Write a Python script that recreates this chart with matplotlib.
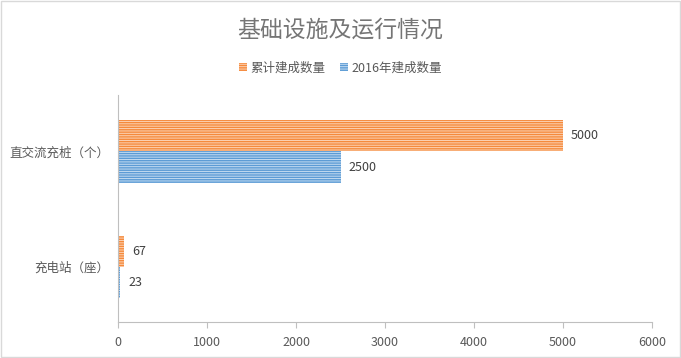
import matplotlib
matplotlib.use("Agg")
import matplotlib.pyplot as plt
from matplotlib.patches import Rectangle

plt.rcParams['font.family'] = ['Noto Sans CJK SC', 'DejaVu Sans']
plt.rcParams['hatch.linewidth'] = 1.0

# data
categories = ['充电站（座）', '直交流充桩（个）']
total_built = [67, 5000]
built_2016 = [23, 2500]
series_names = ['累计建成数量', '2016年建成数量']
xticks = [0, 1000, 2000, 3000, 4000, 5000, 6000]

orange = '#F58A3C'
blue = '#5B9BD5'
text_col = '#595959'

fig = plt.figure(figsize=(6.81, 3.58), dpi=100)
ax = fig.add_axes([118 / 681, (358 - 322) / 358, (652 - 118) / 681, (322 - 95) / 358])

h = 0.27
ypos = list(range(len(categories)))
b1 = ax.barh([y + h / 2 for y in ypos], total_built, height=h, facecolor='#FCD3B5',
             edgecolor=orange, hatch='-------', linewidth=0)
b2 = ax.barh([y - h / 2 for y in ypos], built_2016, height=h, facecolor='#C5DCF1',
             edgecolor=blue, hatch='-------', linewidth=0)

for bars, vals in ((b1, total_built), (b2, built_2016)):
    for bar, v in zip(bars, vals):
        ax.text(v + 90, bar.get_y() + bar.get_height() / 2, str(v), va='center',
                ha='left', fontsize=9, color='#404040')

ax.set_xlim(0, 6000)
ax.set_ylim(-0.48, 1.49)
ax.set_xticks(xticks)
ax.set_xticklabels([str(t) for t in xticks], fontsize=9, color=text_col)
ax.set_yticks(ypos)
ax.set_yticklabels(categories, fontsize=9, color=text_col)
ax.tick_params(axis='y', length=0, pad=6)
ax.tick_params(axis='x', length=4, color='#BFBFBF', pad=6)
for s in ('top', 'right'):
    ax.spines[s].set_visible(False)
ax.spines['left'].set_color('#BFBFBF')
ax.spines['bottom'].set_color('#BFBFBF')

fig.text(0.5, 1 - 30 / 358, '基础设施及运行情况', ha='center', va='center',
         fontsize=16.5, color='#757575')

# legend
leg = fig.legend([b1, b2], series_names, loc='center', bbox_to_anchor=(0.5, 1 - 68 / 358),
                 ncol=2, frameon=False, fontsize=9, handlelength=0.6, handleheight=0.6,
                 handletextpad=0.3, columnspacing=1.2, labelcolor=text_col)

fig.patches.append(Rectangle((0.001, 0.002), 0.997, 0.996, transform=fig.transFigure,
                             fill=False, edgecolor='#D9D9D9', linewidth=1))

fig.savefig('out.png', dpi=100)
